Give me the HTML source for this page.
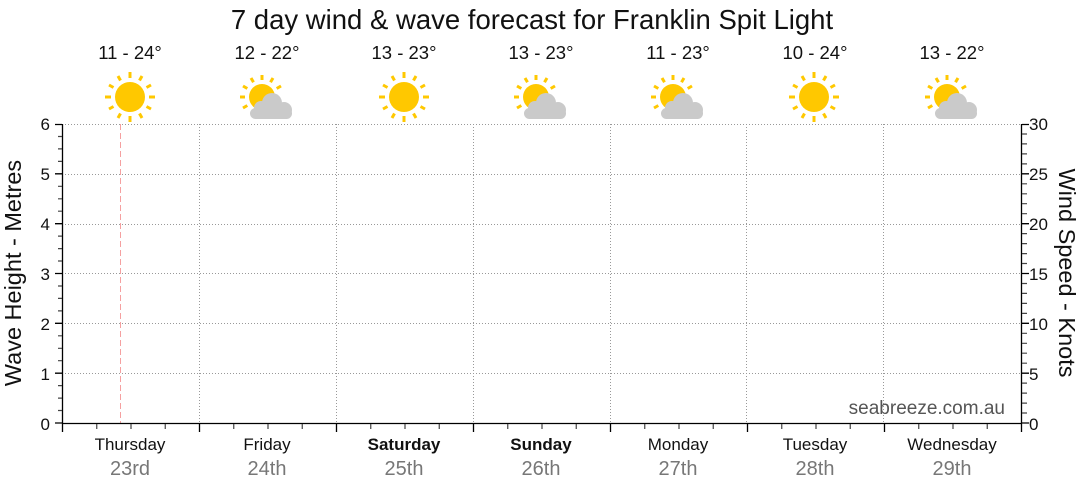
<!DOCTYPE html>
<html><head><meta charset="utf-8"><style>
html,body{margin:0;padding:0;background:#fff;}
svg{display:block;font-family:"Liberation Sans",sans-serif;}
</style></head><body>
<svg width="1080" height="490" viewBox="0 0 1080 490" xmlns="http://www.w3.org/2000/svg">
<defs>
<g id="sun">
<circle cx="0" cy="0" r="15" fill="#ffc800"/>
<g stroke="#ffc800" stroke-width="3">
<line x1="0" y1="-19" x2="0" y2="-25"/><line x1="0" y1="19" x2="0" y2="25"/>
<line x1="-19" y1="0" x2="-25" y2="0"/><line x1="19" y1="0" x2="25" y2="0"/>
<line x1="9.5" y1="-16.5" x2="12" y2="-21"/><line x1="-9.5" y1="-16.5" x2="-12" y2="-21"/>
<line x1="9.5" y1="16.5" x2="12" y2="21"/><line x1="-9.5" y1="16.5" x2="-12" y2="21"/>
<line x1="16.5" y1="-9.5" x2="21" y2="-12"/><line x1="-16.5" y1="-9.5" x2="-21" y2="-12"/>
<line x1="16.5" y1="9.5" x2="21" y2="12"/><line x1="-16.5" y1="9.5" x2="-21" y2="12"/>
</g></g>
<g id="pc">
<circle cx="0" cy="0" r="13" fill="#ffc800"/>
<g stroke="#ffc800" stroke-width="3">
<line x1="0" y1="-17" x2="0" y2="-22"/><line x1="-17" y1="0" x2="-22" y2="0"/>
<line x1="8.5" y1="-14.7" x2="11" y2="-19"/><line x1="-8.5" y1="-14.7" x2="-11" y2="-19"/>
<line x1="14.7" y1="-8.5" x2="19" y2="-11"/><line x1="-14.7" y1="-8.5" x2="-19" y2="-11"/>
<line x1="-14.7" y1="8.5" x2="-19" y2="11"/>
</g>
<g fill="#cacaca">
<circle cx="10" cy="6" r="10"/><circle cx="-1" cy="11" r="7"/>
<rect x="-12" y="11" width="42" height="11" rx="5.5"/><circle cx="22" cy="13" r="8"/>
</g></g>
</defs>
<text x="532" y="29" font-size="27.5" text-anchor="middle" fill="#111">7 day wind &amp; wave forecast for Franklin Spit Light</text>
<g font-size="18.5" text-anchor="middle" fill="#111">
<text x="130" y="59">11 - 24°</text><text x="267" y="59">12 - 22°</text><text x="404" y="59">13 - 23°</text><text x="541" y="59">13 - 23°</text><text x="678" y="59">11 - 23°</text><text x="815" y="59">10 - 24°</text><text x="952" y="59">13 - 22°</text>
</g>
<use href="#sun" x="130" y="97"/><use href="#pc" x="262" y="97"/><use href="#sun" x="404" y="97"/><use href="#pc" x="536" y="97"/><use href="#pc" x="673" y="97"/><use href="#sun" x="814" y="97"/><use href="#pc" x="947" y="97"/>
<g stroke="#999" stroke-width="1" stroke-dasharray="1,2">
<line x1="62" y1="124.5" x2="1021" y2="124.5"/><line x1="62" y1="174.5" x2="1021" y2="174.5"/><line x1="62" y1="224.5" x2="1021" y2="224.5"/><line x1="62" y1="273.5" x2="1021" y2="273.5"/><line x1="62" y1="323.5" x2="1021" y2="323.5"/><line x1="62" y1="373.5" x2="1021" y2="373.5"/>
<line x1="199.5" y1="124" x2="199.5" y2="423"/><line x1="336.5" y1="124" x2="336.5" y2="423"/><line x1="473.5" y1="124" x2="473.5" y2="423"/><line x1="610.5" y1="124" x2="610.5" y2="423"/><line x1="746.5" y1="124" x2="746.5" y2="423"/><line x1="883.5" y1="124" x2="883.5" y2="423"/>
</g>
<line x1="120.5" y1="124" x2="120.5" y2="423" stroke="#f5a0a0" stroke-dasharray="6,3"/>
<g stroke="#000" stroke-width="1.3">
<line x1="62" y1="423.5" x2="1022" y2="423.5"/>
<line x1="62.5" y1="124" x2="62.5" y2="424"/>
<line x1="1021.5" y1="124" x2="1021.5" y2="424"/>
</g>
<path stroke="#000" stroke-width="1.3" fill="none" d="M55 124.5h7M55 173.8h7M55 223.7h7M55 273.5h7M55 323.3h7M55 373.2h7M55 423h7 M1022 124.5h7M1022 173.8h7M1022 223.7h7M1022 273.5h7M1022 323.3h7M1022 373.2h7M1022 423h7 M62.5 424v8M199.5 424v8M336.5 424v8M473.5 424v8M610.5 424v8M747.5 424v8M884.5 424v8M1021.5 424v8"/>
<path stroke="#444" stroke-width="1.2" fill="none" d="M58 136.5h4M58 148.9h4M58 161.4h4M58 186.3h4M58 198.8h4M58 211.2h4M58 236.1h4M58 248.6h4M58 261h4M58 286h4M58 298.4h4M58 310.9h4M58 335.8h4M58 348.3h4M58 360.7h4M58 385.6h4M58 398.1h4M58 410.5h4 M1022 134h5M1022 143.9h5M1022 153.9h5M1022 163.9h5M1022 183.8h5M1022 193.8h5M1022 203.7h5M1022 213.7h5M1022 233.6h5M1022 243.6h5M1022 253.6h5M1022 263.5h5M1022 283.5h5M1022 293.4h5M1022 303.4h5M1022 313.4h5M1022 333.3h5M1022 343.3h5M1022 353.2h5M1022 363.2h5M1022 383.1h5M1022 393.1h5M1022 403.1h5M1022 413h5 M96.75 424v5M131 424v5M165.25 424v5M233.75 424v5M268 424v5M302.25 424v5M370.75 424v5M405 424v5M439.25 424v5M507.75 424v5M542 424v5M576.25 424v5M644.75 424v5M679 424v5M713.25 424v5M781.75 424v5M816 424v5M850.25 424v5M918.75 424v5M953 424v5M987.25 424v5"/>
<text x="1005" y="414" font-size="19" text-anchor="end" fill="#555">seabreeze.com.au</text>
<g font-size="17" fill="#111" text-anchor="end">
<text x="50" y="130">6</text><text x="50" y="180">5</text><text x="50" y="230">4</text><text x="50" y="280">3</text><text x="50" y="330">2</text><text x="50" y="380">1</text><text x="50" y="430">0</text>
</g>
<g font-size="17" fill="#111">
<text x="1029" y="130">30</text><text x="1029" y="180">25</text><text x="1029" y="230">20</text><text x="1029" y="280">15</text><text x="1029" y="330">10</text><text x="1029" y="380">5</text><text x="1029" y="430">0</text>
</g>
<text transform="translate(21,273) rotate(-90)" font-size="23.5" text-anchor="middle" fill="#111">Wave Height - Metres</text>
<text transform="translate(1059,273) rotate(90)" font-size="23.5" text-anchor="middle" fill="#111">Wind Speed - Knots</text>
<g font-size="17" text-anchor="middle" fill="#111">
<text x="130" y="450">Thursday</text><text x="267" y="450">Friday</text><text x="404" y="450" font-weight="bold">Saturday</text><text x="541" y="450" font-weight="bold">Sunday</text><text x="678" y="450">Monday</text><text x="815" y="450">Tuesday</text><text x="952" y="450">Wednesday</text>
</g>
<g font-size="20" text-anchor="middle" fill="#777">
<text x="130" y="475">23rd</text><text x="267" y="475">24th</text><text x="404" y="475">25th</text><text x="541" y="475">26th</text><text x="678" y="475">27th</text><text x="815" y="475">28th</text><text x="952" y="475">29th</text>
</g>
</svg>
</body></html>
